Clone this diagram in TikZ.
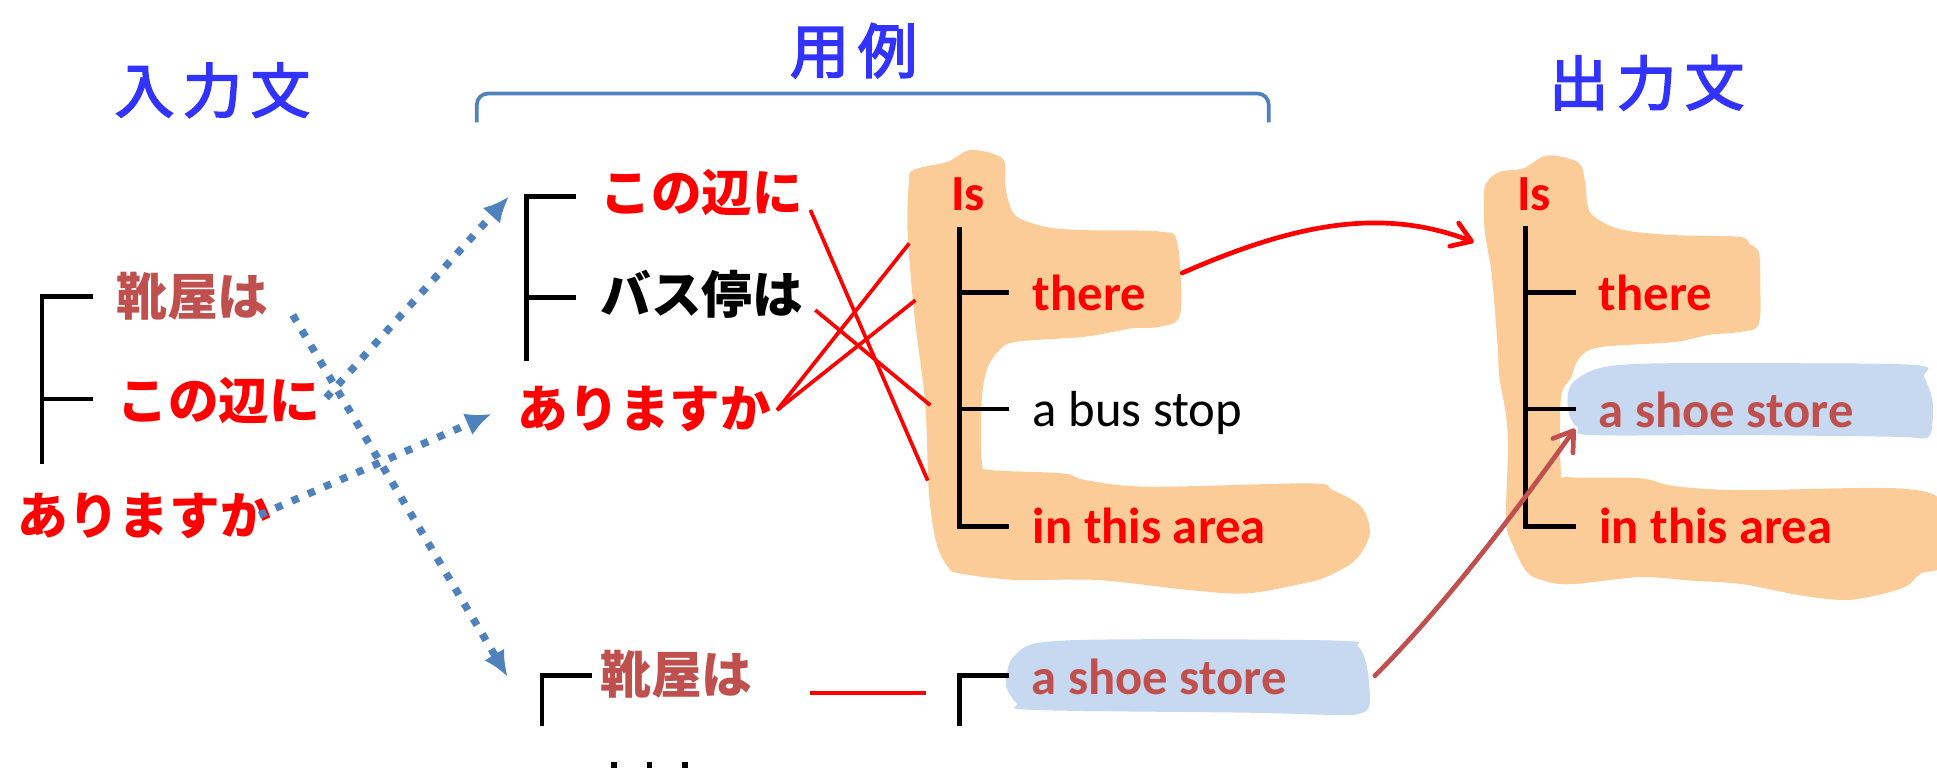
\documentclass[tikz,border=0pt]{standalone}
\usepackage{fontspec}
\setmainfont{Carlito}
\newfontfamily\jp{Noto Sans CJK JP}
\newfontfamily\jpt[FakeBold=3]{Noto Sans CJK JP}
\usetikzlibrary{arrows.meta}
\definecolor{myred}{RGB}{255,0,0}
\definecolor{brn}{RGB}{192,80,77}
\definecolor{ttl}{RGB}{51,51,255}
\definecolor{stl}{RGB}{79,129,189}
\definecolor{peach}{RGB}{252,204,152}
\definecolor{lblue}{RGB}{198,217,240}
\tikzset{
  jtxt/.style={font=\jp\bfseries\fontsize{41}{41}\selectfont, inner sep=0pt, anchor=west},
  etxt/.style={font=\fontsize{41}{41}\selectfont, inner sep=0pt, anchor=base west},
  ebold/.style={font=\bfseries\fontsize{41}{41}\selectfont, inner sep=0pt, anchor=base west},
  ttlnode/.style={font=\jpt\fontsize{48}{48}\selectfont, text=ttl, inner sep=0pt},
  treeline/.style={line width=3.8pt, black, line join=miter},
  redline/.style={line width=3pt, myred},
  dotarrow/.style={stl, line width=6pt, dash pattern=on 6pt off 8.3pt, -{Latex[length=21pt,width=19pt]}},
  openarrow/.style={line width=3.8pt, line cap=round, -{Straight Barb[length=15pt,width=20pt,line width=3.8pt,round]}},
}
\begin{document}
\begin{tikzpicture}[x=1pt,y=-1pt]
\useasboundingbox (0,0) rectangle (1568,625);
% blobs
\fill[peach] plot[smooth cycle, tension=0.55] coordinates {
(739.4,137.6) (767.2,130.9) (785.8,121.4) (811.4,128.2) (813.7,148.4) (816.0,161.9) (823.0,175.4) (846.2,183.5) (874.1,186.2) (939.2,187.5) (953.1,197.0) (955.5,253.6) (939.2,264.4) (916.0,265.8) (878.8,272.5) (823.0,276.6) (809.1,283.3) (799.8,296.8) (795.1,318.4) (794.2,350.8) (795.1,375.1) (802.1,380.5) (860.2,383.2) (878.8,388.6) (929.9,394.0) (1060.0,391.3) (1078.6,396.7) (1101.8,410.2) (1108.8,431.7) (1097.2,453.3) (1073.9,466.8) (1055.4,472.2) (1008.9,480.3) (962.4,477.6) (888.1,469.5) (823.0,469.5) (776.5,464.1) (767.2,458.7) (758.0,439.8) (752.4,404.7) (751.0,377.8) (748.7,323.8) (740.3,256.3) (734.7,188.9) (735.7,148.4)};
\fill[peach] plot[smooth cycle, tension=0.55] coordinates {
(1202.6,149.1) (1213.7,139.2) (1233.1,136.3) (1252.5,125.8) (1277.5,131.5) (1283.0,146.3) (1285.2,166.2) (1291.3,176.1) (1313.5,186.0) (1355.1,190.3) (1407.8,191.7) (1416.1,197.4) (1423.8,204.5) (1424.9,228.6) (1423.8,262.2) (1410.5,268.4) (1382.8,271.2) (1355.1,276.9) (1294.1,281.2) (1277.5,291.1) (1272.0,305.3) (1263.6,322.4) (1263.6,382.0) (1269.2,386.3) (1327.4,387.1) (1355.1,393.4) (1410.5,396.8) (1540.8,395.6) (1575,410.4) (1575,455.8) (1554.7,464.4) (1543.6,474.3) (1521.4,481.4) (1493.7,485.7) (1457.7,482.0) (1410.5,472.9) (1369.0,470.0) (1327.4,467.2) (1271.9,472.9) (1249.7,470.0) (1235.9,463.0) (1224.8,441.6) (1219.2,421.8) (1220.6,365.0) (1219.2,336.6) (1213.7,305.3) (1212.3,279.8) (1207.6,223.0) (1202.1,188.9) (1201.2,166.2)};
\fill[lblue] plot[smooth cycle, tension=0.55] coordinates {
(1269.1,319.5) (1274.7,308.2) (1294.1,298.2) (1327.4,294.5) (1410.5,294.0) (1549.2,295.4) (1557.5,305.3) (1564.4,325.2) (1563.0,350.8) (1554.7,355.0) (1535.3,353.6) (1410.5,352.2) (1288.5,352.2) (1277.5,346.5) (1270.5,336.6)};
\fill[lblue] plot[smooth cycle, tension=0.55] coordinates {
(820.7,531.4) (841.6,520.2) (915.9,517.5) (1083.2,518.6) (1099.5,523.5) (1106.5,539.7) (1108.8,569.3) (1101.8,577.4) (1083.2,578.8) (1008.9,576.9) (837,574.7) (823,569.3) (814.6,555.8) (815.6,542.4)};
% titles and bracket
\node[ttlnode] (tin) at (172,73) {入\hspace{7pt}力\hspace{7pt}文};
\node[ttlnode] (tex) at (691,41) {用\hspace{7pt}例};
\node[ttlnode] (tout) at (1333,67) {出\hspace{7pt}力\hspace{7pt}文};
\draw[stl, line width=3pt, rounded corners=9pt] (386,99) -- (386,75.7) -- (1027,75.7) -- (1027,99);
% left tree
\draw[treeline] (75,240) -- (34,240) -- (34,376);
\draw[treeline] (34,323) -- (75,323);
\node[jtxt, text=brn] (in1) at (94,240) {靴屋は};
\node[jtxt, text=myred] (in2) at (95,324) {この辺に};
\node[jtxt, text=myred] (in3) at (14,418) {ありますか};
% middle tree
\draw[treeline] (466,159) -- (426,159) -- (426,292);
\draw[treeline] (426,241) -- (466,241);
\node[jtxt, text=myred] (ex1) at (486,156) {この辺に};
\node[jtxt, text=black] (ex2) at (486,238) {バス停は};
\node[jtxt, text=myred] (ex3) at (419,331) {ありますか};
% english example tree
\draw[treeline] (776.5,183.5) -- (776.5,426) -- (817,426);
\draw[treeline] (776.5,237) -- (817,237);
\draw[treeline] (776.5,331) -- (817,331);
\node[ebold, text=myred] (eIs) at (770,170) {Is};
\node[ebold, text=myred] (eth) at (836,251) {there};
\node[etxt, text=black] (ebs) at (836,345) {a bus stop};
\node[ebold, text=myred] (ear) at (836,440) {in this area};
% output tree
\draw[treeline] (1235,183) -- (1235,426) -- (1276,426);
\draw[treeline] (1235,237) -- (1276,237);
\draw[treeline] (1235,331) -- (1276,331);
\node[ebold, text=myred] (oIs) at (1228,170) {Is};
\node[ebold, text=myred] (oth) at (1294,251) {there};
\node[ebold, text=brn] (oss) at (1294,346) {a shoe store};
\node[ebold, text=myred] (oar) at (1294.5,440) {in this area};
% bottom example
\draw[treeline] (479,547) -- (438.7,547) -- (438.7,588);
\draw[treeline] (817,547) -- (776.5,547) -- (776.5,588);
\node[jtxt, text=brn] (bj) at (486,546) {靴屋は};
\node[ebold, text=brn] (be) at (835,562) {a shoe store};
\fill (494.8,617) rectangle (499.3,621.5);
\fill (523.6,617) rectangle (528.1,621.5);
\fill (552.4,617) rectangle (556.9,621.5);
% coordinates for connector ends
\coordinate (r1a) at (656,170); \coordinate (r1b) at (751,389);
\coordinate (r2a) at (660,251); \coordinate (r2b) at (753,328);
\coordinate (r3a) at (629,332); \coordinate (r3b) at (736,197);
\coordinate (r4b) at (741,243);
\coordinate (bla) at (655.7,561); \coordinate (blb) at (749.6,561);
\coordinate (d1a) at (237,255); \coordinate (d1b) at (411,548);
\coordinate (d2a) at (264,322); \coordinate (d2b) at (412,159);
\coordinate (d3a) at (210,417); \coordinate (d3b) at (398,335);
\coordinate (raa) at (957,221); \coordinate (rab) at (1193,196);
\coordinate (baa) at (1113,547); \coordinate (bab) at (1275,347);
% red alignment lines
\draw[redline] (r1a) -- (r1b);
\draw[redline] (r2a) -- (r2b);
\draw[redline] (r3a) -- (r3b);
\draw[redline] (r3a) -- (r4b);
\draw[myred, line width=3.8pt] (bla) -- (blb);
% dotted arrows
\draw[dotarrow] (d1a) -- (d1b);
\draw[dotarrow] (d2a) -- (d2b);
\draw[dotarrow] (d3a) -- (d3b);
% curved arrows
\draw[openarrow, myred] (raa) .. controls (1050,180) and (1120,168) .. (rab);
\draw[openarrow, brn] (baa) .. controls (1170,490) and (1230,410) .. (bab);
\end{tikzpicture}
\end{document}
